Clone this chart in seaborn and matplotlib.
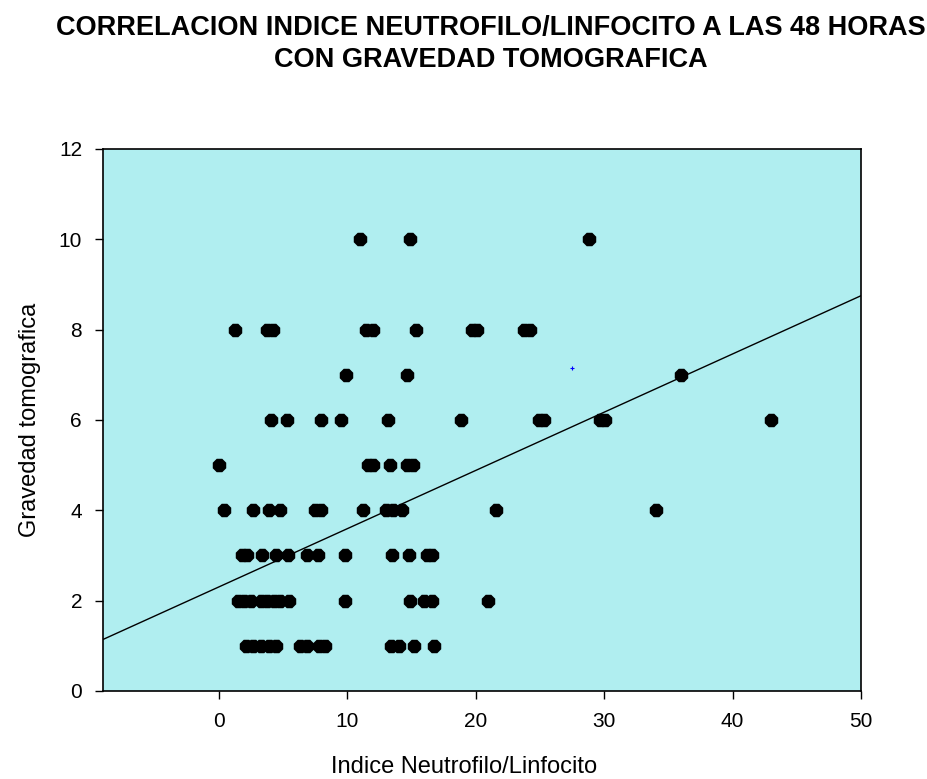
import numpy as np
import pandas as pd
import matplotlib.pyplot as plt
import seaborn as sns

# Indice neutrofilo/linfocito por cada nivel de gravedad tomografica
inl_g10 = [11.0, 14.9, 28.8]
inl_g8 = [1.25, 3.8, 4.2, 11.5, 12.0, 15.4, 19.7, 20.1, 23.8, 24.2]
inl_g7 = [9.9, 14.7, 36.0]
inl_g6 = [4.1, 5.3, 8.0, 9.5, 13.2, 18.9, 24.9, 25.3, 29.7, 30.1, 43.0]
inl_g5 = [0.0, 11.6, 12.0, 13.3, 14.7, 15.1]
inl_g4 = [0.4, 2.7, 3.9, 4.8, 7.5, 8.0, 11.2, 13.0, 13.6, 14.3, 21.6, 34.0]
inl_g3 = [1.8, 2.2, 3.4, 4.5, 5.4, 6.9, 7.7, 9.8, 13.5, 14.8, 16.2, 16.6]
inl_g2 = [1.5, 2.0, 2.5, 3.3, 3.8, 4.3, 4.8, 5.5, 9.8, 14.9, 16.0, 16.6, 21.0]
inl_g1 = [2.1, 2.7, 3.3, 3.9, 4.5, 6.3, 6.9, 7.8, 8.3, 13.4, 14.0, 15.2, 16.8]

niveles = [10, 8, 7, 6, 5, 4, 3, 2, 1]
grupos = [inl_g10, inl_g8, inl_g7, inl_g6, inl_g5, inl_g4, inl_g3, inl_g2, inl_g1]

# Recta de regresion del grafico original
intercepto = 2.30
pendiente = 0.129

# Punto azul suelto
punto_azul_x = [27.5]
punto_azul_y = [7.15]

df = pd.DataFrame({
    'inl': [v for g in grupos for v in g],
    'gravedad': [n for n, g in zip(niveles, grupos) for _ in g],
})

sns.set_style("ticks")
plt.rcParams['font.family'] = ['Liberation Sans', 'DejaVu Sans']
plt.rcParams['text.color'] = 'black'
plt.rcParams['axes.labelcolor'] = 'black'

fig = plt.figure(figsize=(9.27, 7.79), dpi=100)
ax = fig.add_axes([0.111, 0.113, 0.818, 0.696])
ax.set_facecolor('#b0eef0')

sns.scatterplot(data=df, x='inl', y='gravedad', ax=ax, color='black',
                marker='8', s=110, edgecolor='black', linewidth=0, zorder=3)
sns.scatterplot(x=punto_azul_x, y=punto_azul_y, ax=ax, color='blue',
                marker='+', s=12, linewidth=0.8, zorder=3)

xlim = (-9.0, 50)
xs = np.array(xlim)
ax.plot(xs, intercepto + pendiente * xs, color='black', linewidth=1, zorder=2)

ax.set_xlim(*xlim)
ax.set_ylim(0, 12)
ax.set_xticks([0, 10, 20, 30, 40, 50])
ax.set_yticks([0, 2, 4, 6, 8, 10, 12])
ax.tick_params(direction='out', length=6, width=1, labelsize=15, colors='black', pad=9)
for s in ax.spines.values():
    s.set_color('black')
    s.set_linewidth(1.2)

ax.set_xlabel("Indice Neutrofilo/Linfocito", fontsize=17)
ax.set_ylabel("Gravedad tomografica", fontsize=17)
ax.xaxis.set_label_coords(0.476, -0.12)
ax.yaxis.set_label_coords(-0.082, 0.5)

fig.text(0.53, 0.943, "CORRELACION INDICE NEUTROFILO/LINFOCITO A LAS 48 HORAS\nCON GRAVEDAD TOMOGRAFICA",
         ha='center', va='center', fontsize=19.5, fontweight='bold', linespacing=1.3)

plt.savefig("out.png", dpi=100)
